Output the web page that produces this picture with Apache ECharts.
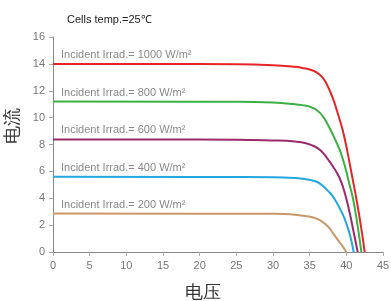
<!DOCTYPE html>
<html>
<head>
<meta charset="utf-8">
<script src="https://cdn.jsdelivr.net/npm/echarts@6/dist/echarts.min.js"></script>
<style>
  html, body { margin: 0; padding: 0; background: #fff; }
  #chart { width: 391px; height: 301px; }
</style>
</head>
<body>
<div id="chart"></div>
<script>
// I-V curves: [voltage, current]
var irr1000 = [[0, 14.0], [25, 13.97], [30, 13.9], [33, 13.78], [34, 13.7], [35, 13.58], [36, 13.35], [36.8, 12.95], [37.5, 12.3], [38.2, 11.4], [38.7, 10.55], [39.2, 9.65], [39.6, 8.85], [40.1, 7.6], [40.8, 5.6], [41.4, 3.87], [42.0, 1.9], [42.5, 0]];
var irr800 = [[0, 11.2], [25, 11.18], [30, 11.12], [33, 11.0], [34, 10.93], [35, 10.82], [36, 10.55], [36.8, 10.1], [37.5, 9.45], [38.2, 8.7], [38.7, 8.1], [39.2, 7.45], [39.8, 6.4], [40.4, 5.1], [40.95, 3.87], [41.5, 2.1], [42.05, 0]];
var irr600 = [[0, 8.38], [25, 8.36], [30, 8.3], [33, 8.22], [34.5, 8.1], [35.7, 7.85], [36.5, 7.55], [37.3, 7.05], [38.2, 6.35], [39.0, 5.6], [39.6, 4.75], [40.3, 3.3], [40.9, 1.75], [41.55, 0]];
var irr400 = [[0, 5.6], [25, 5.58], [30, 5.56], [33, 5.5], [34.5, 5.42], [35.7, 5.28], [36.5, 5.05], [37.5, 4.55], [38.4, 3.95], [39.56, 2.75], [40.1, 1.95], [40.5, 1.26], [41.0, 0]];
var irr200 = [[0, 2.86], [25, 2.85], [30, 2.84], [31.6, 2.82], [33, 2.77], [34.4, 2.68], [35.7, 2.53], [36.5, 2.33], [37.5, 1.9], [38.2, 1.38], [38.9, 0.85], [39.5, 0.42], [40.0, 0]];

var seriesNames = ['Incident Irrad.= 1000 W/m²', 'Incident Irrad.= 800 W/m²', 'Incident Irrad.= 600 W/m²', 'Incident Irrad.= 400 W/m²', 'Incident Irrad.= 200 W/m²'];
var seriesData = [irr1000, irr800, irr600, irr400, irr200];
var colors = ['#e52528', '#3cb043', '#9b2a6b', '#23a7de', '#c99866'];

var xTicks = { min: 0, max: 45, interval: 5 };
var yTicks = { min: 0, max: 16, interval: 2 };

var chart = echarts.init(document.getElementById('chart'));

var series = seriesData.map(function (d, i) {
    return {
        name: seriesNames[i],
        type: 'line',
        data: d,
        smooth: 0.45,
        symbol: 'none',
        lineStyle: { color: colors[i], width: 2 },
        markPoint: {
            symbol: 'circle',
            symbolSize: 0,
            silent: true,
            label: {
                show: true,
                position: 'right',
                distance: 8,
                offset: [0, -9],
                color: '#8a8a8a',
                fontSize: 11,
                formatter: seriesNames[i]
            },
            data: [{ coord: d[0] }]
        }
    };
});

chart.setOption({
    animation: false,
    title: {
        text: 'Cells temp.=25℃',
        left: 62,
        top: 9,
        textStyle: { fontSize: 11, fontWeight: 'normal', color: '#222' }
    },
    grid: { left: 53, right: 8, top: 37, bottom: 49, outerBoundsMode: 'none' },
    xAxis: {
        type: 'value',
        min: xTicks.min,
        max: xTicks.max,
        interval: xTicks.interval,
        name: '电压',
        nameLocation: 'middle',
        nameGap: 32,
        nameTextStyle: { fontSize: 18, color: '#333', padding: [0, 30, 0, 0] },
        axisLine: { lineStyle: { color: '#888' } },
        axisTick: { length: 4, lineStyle: { color: '#aaa' } },
        axisLabel: { color: '#777', fontSize: 11, margin: 8 },
        splitLine: { show: false }
    },
    yAxis: {
        type: 'value',
        min: yTicks.min,
        max: yTicks.max,
        interval: yTicks.interval,
        name: '电流',
        nameLocation: 'middle',
        nameGap: 28,
        nameTextStyle: { fontSize: 18, color: '#333', padding: [0, 0, 0, 38] },
        axisLine: { show: true, lineStyle: { color: '#888' } },
        axisTick: { show: true, length: 4, lineStyle: { color: '#aaa' } },
        axisLabel: { color: '#777', fontSize: 11, margin: 8 },
        splitLine: { show: false }
    },
    series: series
});
</script>
</body>
</html>
